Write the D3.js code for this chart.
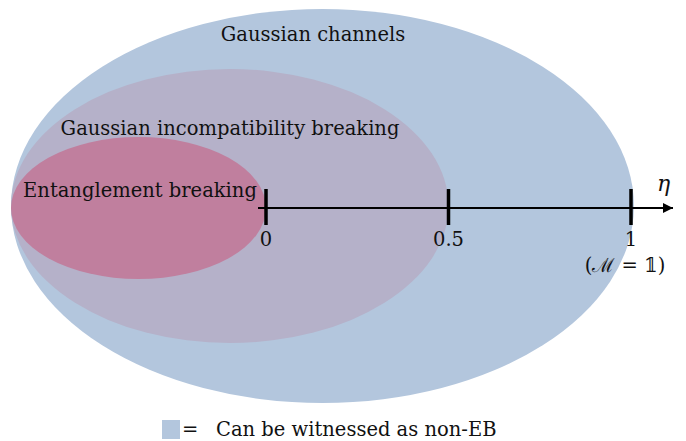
<!DOCTYPE html>
<html>
<head>
<meta charset="utf-8">
<script src="https://cdn.jsdelivr.net/npm/d3@7"></script>
<style>
  body { margin: 0; background: #fff; }
</style>
</head>
<body>
<svg id="chart" width="686" height="441" font-family="'DejaVu Serif', serif"></svg>
<script>
const width = 686;
const height = 441;

// Nested channel sets, outermost first; right edge given in eta units
const setNames = ["Gaussian channels", "Gaussian incompatibility breaking", "Entanglement breaking"];
const setRightEta = [1.008, 0.5, 0];
const setColors = ["#b3c6dd", "#b5b1c9", "#c07f9e"];

// Axis ticks
const tickValues = [0, 0.5, 1];
const tickLabels = ["0", "0.5", "1"];

const legendLabel = "Can be witnessed as non-EB";

const svg = d3.select("#chart");

const axisY = 208;
const leftEdge = 11;
const fontSize = 19.5;
const x = d3.scaleLinear().domain([0, 1]).range([266, 631]);

// half-heights and centre y for each set
const setRy = [197, 137, 71];
const setCy = [206, 206, 208];

svg.selectAll("ellipse.set")
    .data(setNames)
    .join("ellipse")
    .attr("class", "set")
    .attr("cx", (d, i) => (leftEdge + x(setRightEta[i])) / 2)
    .attr("cy", (d, i) => setCy[i])
    .attr("rx", (d, i) => (x(setRightEta[i]) - leftEdge) / 2)
    .attr("ry", (d, i) => setRy[i])
    .attr("fill", (d, i) => setColors[i]);

// set labels
const labelPos = [[313, 41], [230, 135], [140, 197]];
svg.selectAll("text.setlabel")
    .data(setNames)
    .join("text")
    .attr("class", "setlabel")
    .attr("x", (d, i) => labelPos[i][0])
    .attr("y", (d, i) => labelPos[i][1])
    .attr("text-anchor", "middle")
    .attr("font-size", fontSize)
    .attr("fill", "#111")
    .text(d => d);

// eta axis
svg.append("defs").append("marker")
    .attr("id", "arrow")
    .attr("viewBox", "0 0 10 10")
    .attr("refX", 10).attr("refY", 5)
    .attr("markerWidth", 10).attr("markerHeight", 10)
    .attr("markerUnits", "userSpaceOnUse")
    .attr("orient", "auto")
    .append("path")
    .attr("d", "M0,0 L10,5 L0,10 Z")
    .attr("fill", "#000");

svg.append("line")
    .attr("x1", 258).attr("x2", 673)
    .attr("y1", axisY).attr("y2", axisY)
    .attr("stroke", "#000")
    .attr("stroke-width", 2)
    .attr("marker-end", "url(#arrow)");

svg.selectAll("line.tick")
    .data(tickValues)
    .join("line")
    .attr("class", "tick")
    .attr("x1", d => x(d)).attr("x2", d => x(d))
    .attr("y1", axisY - 19).attr("y2", axisY + 17)
    .attr("stroke", "#000")
    .attr("stroke-width", 3.5);

svg.selectAll("text.ticklabel")
    .data(tickValues)
    .join("text")
    .attr("class", "ticklabel")
    .attr("x", d => x(d))
    .attr("y", 246)
    .attr("text-anchor", "middle")
    .attr("font-size", fontSize)
    .attr("fill", "#111")
    .text((d, i) => tickLabels[i]);

svg.append("text")
    .attr("x", x(1) - 6)
    .attr("y", 272)
    .attr("text-anchor", "middle")
    .attr("font-size", fontSize)
    .attr("fill", "#111")
    .text("(\u2133 = \ud835\udfd9)");

svg.append("text")
    .attr("x", 657).attr("y", 191)
    .attr("font-size", 22)
    .attr("font-style", "italic")
    .attr("fill", "#111")
    .text("\u03b7");

// legend
const legend = svg.append("g").attr("transform", "translate(162,420)");
legend.append("rect")
    .attr("width", 18).attr("height", 19)
    .attr("fill", setColors[0]);
legend.append("text")
    .attr("x", 20).attr("y", 16)
    .attr("font-size", fontSize)
    .attr("fill", "#111")
    .text("=");
legend.append("text")
    .attr("x", 54).attr("y", 16)
    .attr("font-size", fontSize)
    .attr("fill", "#111")
    .text(legendLabel);
</script>
</body>
</html>
